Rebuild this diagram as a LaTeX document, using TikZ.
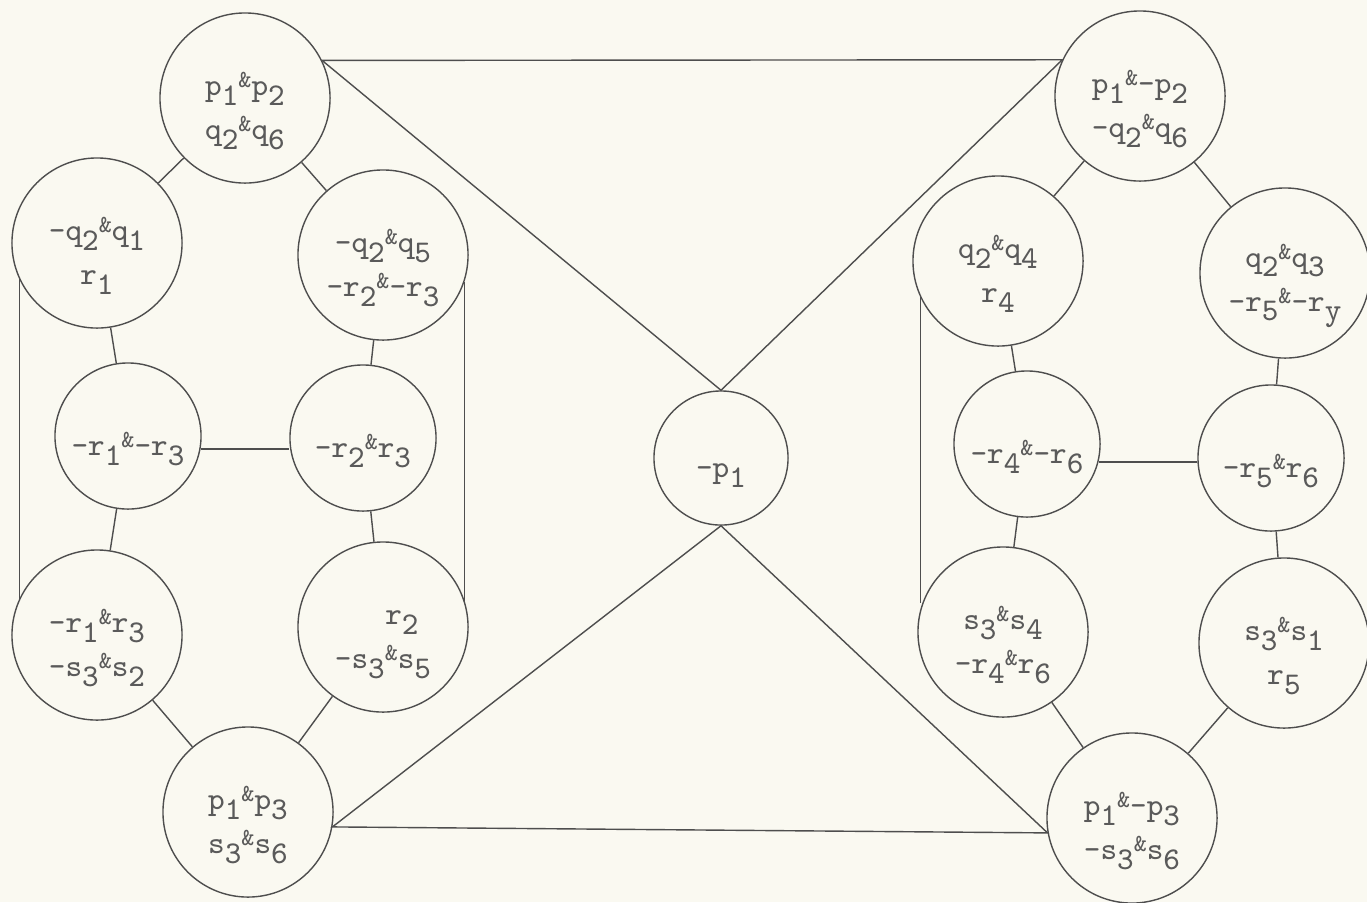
\documentclass[tikz,border=0pt]{standalone}
\usetikzlibrary{positioning,calc}
\definecolor{paper}{HTML}{FAF9F1}
\definecolor{ink}{HTML}{4E4E4E}
\definecolor{type}{HTML}{5A5A5A}
\newcommand{\sbs}[1]{\raisebox{-0.7ex}{#1}}
\newcommand{\et}{\raisebox{0.6ex}{\scriptsize\&}}
\newcommand{\up}{\rule{0pt}{14pt}}

\begin{document}
\begin{tikzpicture}[x=0.01cm,y=-0.01cm,
  bubble/.style={circle,draw=ink,thin,inner sep=0pt,minimum size=1.7cm,align=center,
    text=type,font=\ttfamily\fontsize{9}{12.5}\selectfont},
  mid/.style={bubble,minimum size=1.46cm},
  wire/.style={draw=ink,thin}]
  \fill[paper] (0,0) rectangle (1367,902);
  \useasboundingbox (0,0) rectangle (1367,902);
  % left group
  \node[bubble] (pp) at (245,98) {\up p\sbs{1}\et p\sbs{2}\\q\sbs{2}\et q\sbs{6}};
  \node[bubble] (nq1) at (97,243) {\up -q\sbs{2}\et q\sbs{1}\\r\sbs{1}};
  \node[bubble] (nq5) at (383,255) {\up -q\sbs{2}\et q\sbs{5}\\-r\sbs{2}\et -r\sbs{3}};
  \node[mid] (nr13) at (128,436) {\up -r\sbs{1}\et -r\sbs{3}};
  \node[mid] (nr2) at (363,438) {\up -r\sbs{2}\et r\sbs{3}};
  \node[bubble] (nr1) at (97,635) {\up -r\sbs{1}\et r\sbs{3}\\-s\sbs{3}\et s\sbs{2}};
  \node[bubble] (r2) at (383,627) {\up\hspace{1.2em}r\sbs{2}\\-s\sbs{3}\et s\sbs{5}};
  \node[bubble] (ps) at (248,812) {\up p\sbs{1}\et p\sbs{3}\\s\sbs{3}\et s\sbs{6}};
  % centre
  \node[bubble,minimum size=1.34cm] (np) at (721,458) {\up -p\sbs{1}};
  % right group
  \node[bubble] (pnp) at (1140,96) {\up p\sbs{1}\et -p\sbs{2}\\-q\sbs{2}\et q\sbs{6}};
  \node[bubble] (q4) at (998,261) {\up q\sbs{2}\et q\sbs{4}\\r\sbs{4}};
  \node[bubble] (q3) at (1285,273) {\up q\sbs{2}\et q\sbs{3}\\-r\sbs{5}\et -r\sbs{y}};
  \node[mid] (nr4) at (1027,444) {\up -r\sbs{4}\et -r\sbs{6}};
  \node[mid] (nr5) at (1271,458) {\up -r\sbs{5}\et r\sbs{6}};
  \node[bubble] (s4) at (1003,632) {\up s\sbs{3}\et s\sbs{4}\\-r\sbs{4}\et r\sbs{6}};
  \node[bubble] (s1) at (1284,643) {\up s\sbs{3}\et s\sbs{1}\\r\sbs{5}};
  \node[bubble] (pns) at (1132,818) {\up p\sbs{1}\et -p\sbs{3}\\-s\sbs{3}\et s\sbs{6}};
  % links
  \draw[wire] (pp) -- (nq1) (pp) -- (nq5) (nq1) -- (nr13) (nq5) -- (nr2)
    (nr13) -- (nr1) (nr2) -- (r2) (nr1) -- (ps) (r2) -- (ps);
  \draw[wire] (nr13.350) -- (nr2.west |- nr13.350);
  \draw[wire] (nq1.205) -- (nr1.155);
  \draw[wire] (nq5.342) -- (r2.18);
  \draw[wire] (pnp) -- (q4) (pnp) -- (q3) (q4) -- (nr4) (q3) -- (nr5)
    (nr4) -- (s4) (nr5) -- (s1) (s4) -- (pns) (s1) -- (pns);
  \draw[wire] (nr4.346) -- (nr5.west |- nr4.346);
  \draw[wire] (q4.205) -- (q4.205 |- s4.160);
  % cross
  \draw[wire] (pp.26) -- (pnp.155) -- (np.north) -- cycle;
  \draw[wire] (ps.-10) -- (pns.190) -- (np.south) -- cycle;
\end{tikzpicture}
\end{document}
